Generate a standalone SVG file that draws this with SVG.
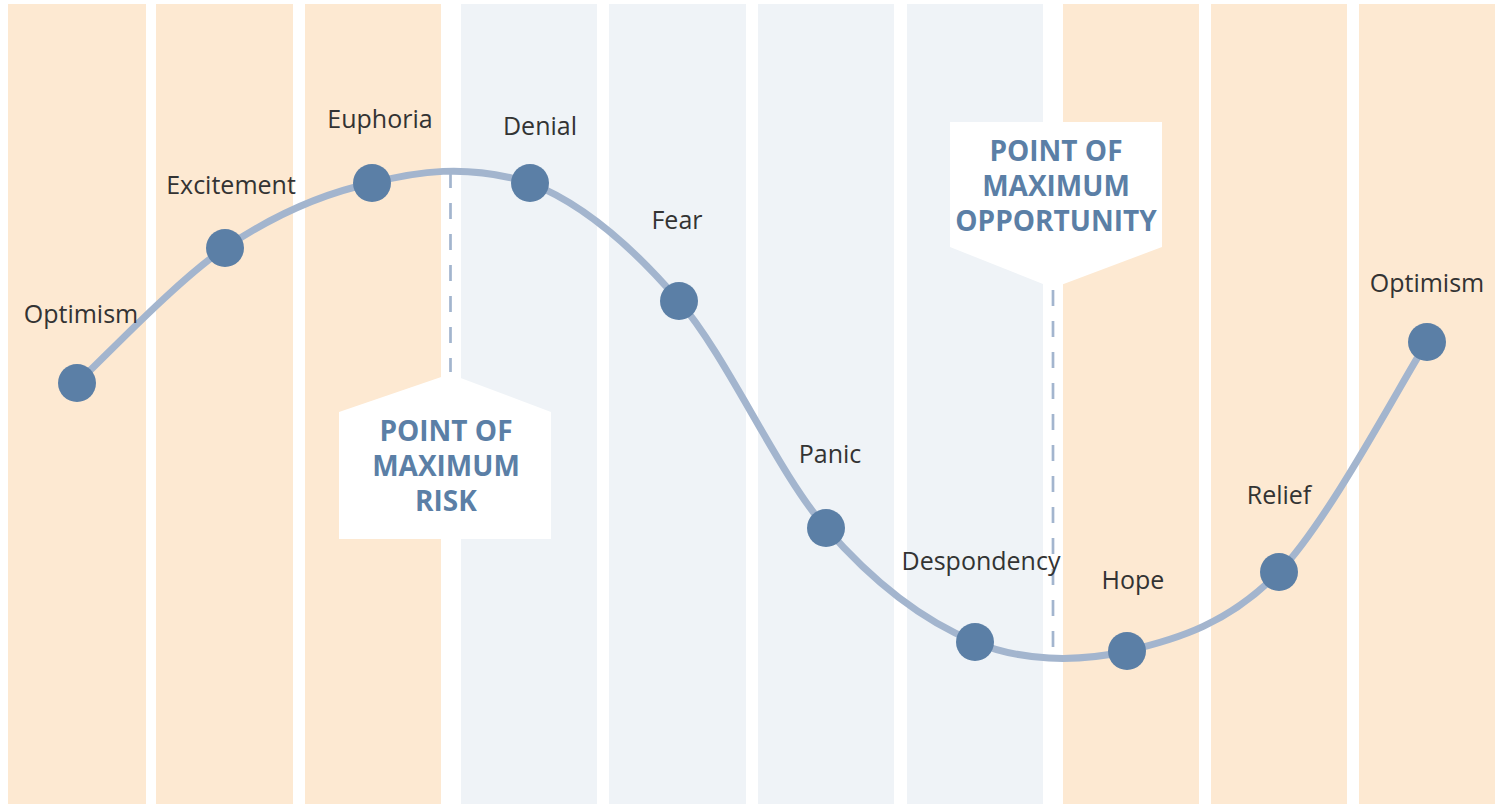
<svg xmlns="http://www.w3.org/2000/svg" width="1505" height="804" viewBox="0 0 1505 804">
<style>
.bull{fill:#FDE9D2}
.bear{fill:#EFF3F7}
.lbl{font-family:"Open Sans","Liberation Sans",sans-serif;font-size:25px;fill:#333333;text-anchor:middle}
.call{font-family:"Open Sans","Liberation Sans",sans-serif;font-size:28px;font-weight:700;fill:#5B7FA6;text-anchor:middle}
.dash{stroke:#A3B5CE;stroke-width:2.7;stroke-dasharray:16 15;fill:none}
.dot{fill:#5B7FA6}
</style>
<rect x="0" y="0" width="1505" height="804" fill="#FFFFFF"/>
<g id="columns">
<rect class="bull" x="8" y="4" width="138" height="800"/>
<rect class="bull" x="156" y="4" width="137" height="800"/>
<rect class="bull" x="305" y="4" width="136" height="800"/>
<rect class="bear" x="461" y="4" width="136" height="800"/>
<rect class="bear" x="609" y="4" width="137" height="800"/>
<rect class="bear" x="758" y="4" width="136" height="800"/>
<rect class="bear" x="907" y="4" width="136" height="800"/>
<rect class="bull" x="1063" y="4" width="136" height="800"/>
<rect class="bull" x="1211" y="4" width="136" height="800"/>
<rect class="bull" x="1359" y="4" width="136" height="800"/>
</g>
<g id="connectors">
<path d="M77,383 C101.7,360.5 175.8,281.3 225,248 C274.2,214.7 321.2,193.8 372,183 C415,172 466,163 530,183 C581.2,202.7 629.7,243.5 679,301 C728.3,358.5 776.7,471.2 826,528 C875.3,584.8 924.8,621.5 975,642 C1020,661 1076.3,662.7 1127,651 C1177.7,639.3 1229,623.5 1279,572 C1329,520.5 1402.3,380.3 1427,342" fill="none" stroke="#A3B5CE" stroke-width="7" stroke-linecap="round"/>
<line class="dash" x1="450.5" y1="172" x2="450.5" y2="372"/>
<line class="dash" x1="1053" y1="290" x2="1053" y2="658"/>
</g>
<g id="risk-callout">
<polygon points="450,374 551,412 551,539 339,539 339,412" fill="#FFFFFF"/>
<text class="call" x="446" y="441">POINT OF</text>
<text class="call" x="446" y="476">MAXIMUM</text>
<text class="call" x="446" y="511">RISK</text>
</g>
<g id="opportunity-callout">
<polygon points="950,122 1162,122 1162,247 1053,288 950,247" fill="#FFFFFF"/>
<text class="call" x="1056" y="161">POINT OF</text>
<text class="call" x="1056" y="196">MAXIMUM</text>
<text class="call" x="1056" y="231">OPPORTUNITY</text>
</g>
<g id="n-optimism1"><circle class="dot" cx="77" cy="383" r="19"/><text class="lbl" x="81" y="323">Optimism</text></g>
<g id="n-excitement"><circle class="dot" cx="225" cy="248" r="19"/><text class="lbl" x="231" y="194">Excitement</text></g>
<g id="n-euphoria"><circle class="dot" cx="372" cy="183" r="19"/><text class="lbl" x="380" y="128">Euphoria</text></g>
<g id="n-denial"><circle class="dot" cx="530" cy="183" r="19"/><text class="lbl" x="540" y="135">Denial</text></g>
<g id="n-fear"><circle class="dot" cx="679" cy="301" r="19"/><text class="lbl" x="677" y="229">Fear</text></g>
<g id="n-panic"><circle class="dot" cx="826" cy="528" r="19"/><text class="lbl" x="830" y="463">Panic</text></g>
<g id="n-despondency"><circle class="dot" cx="975" cy="642" r="19"/><text class="lbl" x="981" y="570">Despondency</text></g>
<g id="n-hope"><circle class="dot" cx="1127" cy="651" r="19"/><text class="lbl" x="1133" y="589">Hope</text></g>
<g id="n-relief"><circle class="dot" cx="1279" cy="572" r="19"/><text class="lbl" x="1279" y="504">Relief</text></g>
<g id="n-optimism2"><circle class="dot" cx="1427" cy="342" r="19"/><text class="lbl" x="1427" y="292">Optimism</text></g>
</svg>
